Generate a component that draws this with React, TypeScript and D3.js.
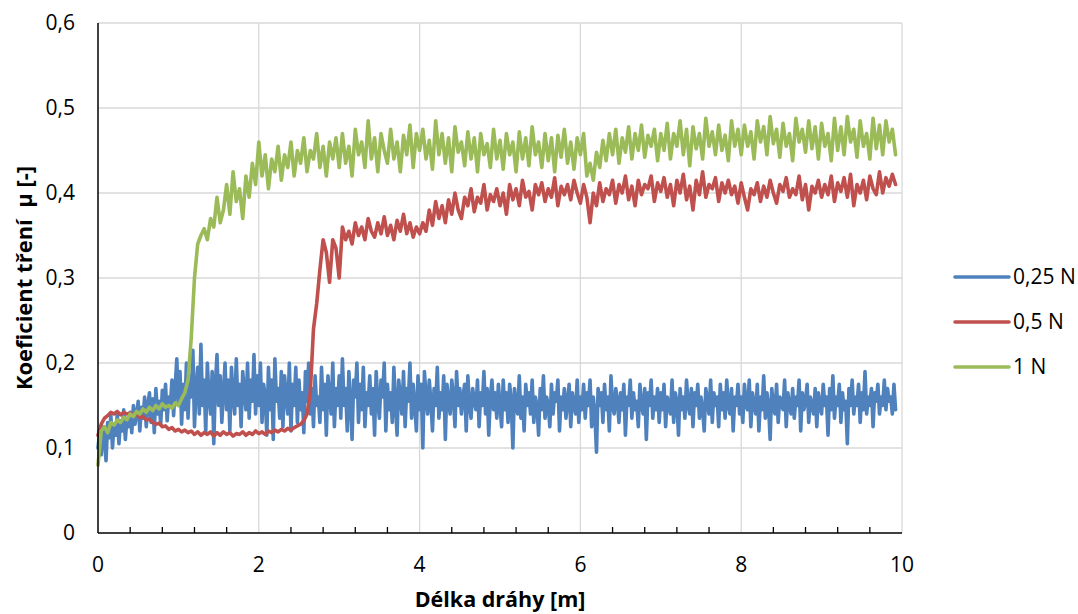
import React from 'react';
import * as d3 from 'd3';

// last measured distance [m]; points are evenly spaced from 0
const X_END = 9.92;

const X_TICKS = [0, 2, 4, 6, 8, 10];
const Y_TICKS = [0, 0.1, 0.2, 0.3, 0.4, 0.5, 0.6];
const SERIES_NAMES = ['0,25 N', '0,5 N', '1 N'];
const SERIES_COLORS = ['#4F81BD', '#C0504D', '#9BBB59'];

// 0,25 N  (every 0.02 m)
const blue025 = [
  0.100, 0.118, 0.092, 0.125, 0.108, 0.085, 0.130, 0.112, 0.138, 0.100, 0.128, 0.115, 0.140, 0.105, 0.132, 0.120, 0.145, 0.110, 0.135, 0.125,
  0.142, 0.118, 0.150, 0.128, 0.140, 0.155, 0.120, 0.148, 0.135, 0.160, 0.125, 0.150, 0.165, 0.130, 0.158, 0.118, 0.170, 0.140, 0.155, 0.128,
  0.168, 0.145, 0.175, 0.132, 0.160, 0.150, 0.180, 0.138, 0.172, 0.205,

  0.150, 0.190, 0.128, 0.175, 0.145, 0.200, 0.135, 0.185, 0.160, 0.215, 0.125, 0.170, 0.195, 0.140, 0.222, 0.150, 0.180, 0.118, 0.200, 0.160,
  0.140, 0.190, 0.105, 0.175, 0.210, 0.150, 0.185, 0.130, 0.165, 0.200, 0.145, 0.180, 0.120, 0.195, 0.160, 0.140, 0.205, 0.150, 0.175, 0.125,
  0.190, 0.165, 0.145, 0.200, 0.135, 0.180, 0.155, 0.210, 0.140, 0.185,

  0.150, 0.200, 0.130, 0.175, 0.160, 0.115, 0.195, 0.145, 0.180, 0.110, 0.205, 0.155, 0.170, 0.135, 0.190, 0.125, 0.185, 0.160, 0.140, 0.200,
  0.120, 0.175, 0.150, 0.195, 0.130, 0.180, 0.145, 0.165, 0.118, 0.190, 0.155, 0.200, 0.140, 0.170, 0.125, 0.185, 0.150, 0.160, 0.130, 0.195,
  0.145, 0.175, 0.115, 0.185, 0.160, 0.140, 0.200, 0.125, 0.170, 0.150,

  0.185, 0.135, 0.205, 0.150, 0.170, 0.120, 0.190, 0.155, 0.110, 0.180, 0.160, 0.200, 0.130, 0.175, 0.145, 0.195, 0.125, 0.165, 0.150, 0.185,
  0.140, 0.170, 0.115, 0.190, 0.155, 0.135, 0.180, 0.160, 0.200, 0.120, 0.175, 0.145, 0.165, 0.130, 0.195, 0.150, 0.115, 0.180, 0.160, 0.140,
  0.190, 0.125, 0.170, 0.155, 0.200, 0.135, 0.175, 0.150, 0.120, 0.185,

  0.145, 0.175, 0.100, 0.190, 0.160, 0.140, 0.180, 0.155, 0.120, 0.170, 0.150, 0.195, 0.135, 0.165, 0.145, 0.185, 0.110, 0.175, 0.155, 0.140,
  0.180, 0.160, 0.125, 0.190, 0.150, 0.170, 0.140, 0.160, 0.175, 0.120, 0.185, 0.150, 0.135, 0.170, 0.155, 0.145, 0.180, 0.125, 0.165, 0.150,
  0.190, 0.140, 0.170, 0.115, 0.160, 0.180, 0.145, 0.165, 0.135, 0.175,

  0.150, 0.125, 0.180, 0.145, 0.165, 0.130, 0.175, 0.155, 0.100, 0.170, 0.150, 0.140, 0.185, 0.135, 0.160, 0.120, 0.175, 0.150, 0.165, 0.140,
  0.180, 0.130, 0.160, 0.150, 0.115, 0.170, 0.145, 0.185, 0.135, 0.160, 0.150, 0.125, 0.175, 0.140, 0.165, 0.155, 0.180, 0.120, 0.160, 0.145,
  0.170, 0.135, 0.155, 0.175, 0.125, 0.165, 0.150, 0.140, 0.180, 0.130,

  0.160, 0.145, 0.175, 0.135, 0.165, 0.150, 0.180, 0.125, 0.160, 0.140, 0.095, 0.170, 0.150, 0.165, 0.130, 0.175, 0.145, 0.160, 0.120, 0.185,
  0.150, 0.140, 0.170, 0.155, 0.130, 0.165, 0.145, 0.175, 0.115, 0.160, 0.150, 0.180, 0.135, 0.165, 0.145, 0.155, 0.125, 0.175, 0.150, 0.140,
  0.170, 0.110, 0.165, 0.150, 0.180, 0.135, 0.160, 0.145, 0.170, 0.130,

  0.165, 0.145, 0.175, 0.125, 0.160, 0.150, 0.140, 0.180, 0.130, 0.165, 0.155, 0.115, 0.170, 0.145, 0.160, 0.135, 0.180, 0.150, 0.140, 0.170,
  0.125, 0.165, 0.150, 0.175, 0.135, 0.160, 0.145, 0.120, 0.170, 0.155, 0.140, 0.180, 0.130, 0.165, 0.150, 0.160, 0.125, 0.175, 0.145, 0.165,
  0.135, 0.180, 0.150, 0.140, 0.170, 0.120, 0.160, 0.150, 0.175, 0.140,

  0.160, 0.130, 0.175, 0.150, 0.145, 0.180, 0.125, 0.165, 0.150, 0.140, 0.175, 0.120, 0.160, 0.145, 0.185, 0.135, 0.165, 0.150, 0.110, 0.170,
  0.150, 0.140, 0.175, 0.130, 0.160, 0.155, 0.145, 0.180, 0.125, 0.165, 0.150, 0.140, 0.170, 0.135, 0.160, 0.150, 0.180, 0.120, 0.165, 0.145,
  0.155, 0.175, 0.130, 0.160, 0.150, 0.140, 0.170, 0.125, 0.165, 0.150,

  0.140, 0.175, 0.150, 0.160, 0.115, 0.170, 0.145, 0.185, 0.135, 0.160, 0.150, 0.175, 0.130, 0.165, 0.145, 0.155, 0.105, 0.170, 0.150, 0.180,
  0.140, 0.160, 0.150, 0.175, 0.130, 0.165, 0.145, 0.190, 0.140, 0.160, 0.150, 0.170, 0.125, 0.165, 0.155, 0.175, 0.140, 0.160, 0.150, 0.180,
  0.145, 0.170, 0.155, 0.160, 0.140, 0.175, 0.145,
];

// 0,5 N  (every 0.04 m)
const red05 = [
  0.115, 0.128, 0.135, 0.138, 0.142, 0.140, 0.143, 0.139, 0.142, 0.140, 0.141,
  0.138, 0.140, 0.136, 0.137, 0.133, 0.134, 0.130, 0.128, 0.129, 0.125, 0.126, 0.122, 0.124, 0.120, 0.122,
  0.119, 0.121, 0.118, 0.120, 0.116, 0.119, 0.115, 0.118, 0.116, 0.119, 0.114, 0.118, 0.115, 0.119, 0.116, 0.118, 0.114, 0.117, 0.116, 0.119, 0.115, 0.118, 0.116, 0.120, 0.117,
  0.119, 0.116, 0.120, 0.118, 0.121, 0.119, 0.122, 0.120, 0.123, 0.121, 0.124, 0.126, 0.128, 0.132, 0.140, 0.165, 0.240, 0.270, 0.310, 0.345, 0.330, 0.295, 0.345, 0.335, 0.300,
  0.360, 0.345, 0.355, 0.340, 0.365, 0.350, 0.360, 0.345, 0.370, 0.355, 0.348, 0.365, 0.352, 0.372, 0.350, 0.362, 0.345, 0.368, 0.355, 0.375, 0.352, 0.365, 0.348, 0.360, 0.352,
  0.365, 0.355, 0.380, 0.362, 0.390, 0.370, 0.385, 0.365, 0.392, 0.375, 0.400, 0.380, 0.370, 0.395, 0.385, 0.405, 0.378, 0.395, 0.388, 0.410, 0.380, 0.398, 0.390, 0.405, 0.385,
  0.400, 0.375, 0.410, 0.392, 0.405, 0.385, 0.415, 0.395, 0.402, 0.380, 0.410, 0.398, 0.412, 0.390, 0.405, 0.395, 0.418, 0.385, 0.408, 0.398, 0.410, 0.392, 0.415, 0.400, 0.388,
  0.410, 0.395, 0.365, 0.400, 0.385, 0.412, 0.390, 0.405, 0.398, 0.415, 0.388, 0.410, 0.400, 0.420, 0.392, 0.408, 0.385, 0.415, 0.398, 0.410, 0.405, 0.420, 0.390, 0.412, 0.402,
  0.418, 0.395, 0.410, 0.385, 0.415, 0.400, 0.422, 0.392, 0.408, 0.380, 0.415, 0.398, 0.425, 0.395, 0.410, 0.405, 0.418, 0.390, 0.412, 0.400, 0.415, 0.398, 0.408, 0.388, 0.412,
  0.395, 0.380, 0.405, 0.398, 0.412, 0.390, 0.408, 0.395, 0.415, 0.400, 0.388, 0.410, 0.402, 0.418, 0.395, 0.405, 0.398, 0.420, 0.392, 0.410, 0.380, 0.408, 0.400, 0.415, 0.395,
  0.410, 0.398, 0.420, 0.390, 0.412, 0.402, 0.418, 0.395, 0.422, 0.385, 0.410, 0.400, 0.415, 0.392, 0.420, 0.405, 0.398, 0.425, 0.400, 0.418, 0.408, 0.422, 0.410,
];

// 1 N  (every 0.04 m)
const green1 = [
  0.080, 0.120, 0.125, 0.118, 0.130, 0.127, 0.133, 0.130, 0.136, 0.133, 0.140,
  0.137, 0.143, 0.140, 0.146, 0.142, 0.148, 0.144, 0.150, 0.146, 0.152, 0.148, 0.150, 0.147, 0.153, 0.150,
  0.158, 0.165, 0.180, 0.230, 0.300, 0.340, 0.350, 0.358, 0.345, 0.370, 0.360, 0.395, 0.365, 0.380, 0.410, 0.375, 0.425, 0.390, 0.405, 0.370, 0.420, 0.395, 0.435, 0.410, 0.460,
  0.420, 0.445, 0.405, 0.440, 0.425, 0.455, 0.415, 0.445, 0.430, 0.460, 0.420, 0.450, 0.435, 0.465, 0.425, 0.450, 0.440, 0.470, 0.430, 0.455, 0.420, 0.460, 0.440, 0.465, 0.430,
  0.470, 0.435, 0.455, 0.420, 0.475, 0.445, 0.460, 0.430, 0.485, 0.440, 0.465, 0.425, 0.470, 0.450, 0.435, 0.475, 0.440, 0.460, 0.425, 0.468, 0.445, 0.480, 0.430, 0.470, 0.450,
  0.475, 0.440, 0.462, 0.428, 0.485, 0.445, 0.470, 0.435, 0.465, 0.425, 0.478, 0.448, 0.460, 0.432, 0.472, 0.440, 0.465, 0.425, 0.470, 0.445, 0.458, 0.430, 0.475, 0.440, 0.462,
  0.428, 0.470, 0.445, 0.460, 0.425, 0.472, 0.440, 0.465, 0.432, 0.478, 0.445, 0.460, 0.430, 0.470, 0.438, 0.465, 0.425, 0.468, 0.442, 0.475, 0.435, 0.460, 0.428, 0.465, 0.445,
  0.470, 0.420, 0.435, 0.415, 0.448, 0.430, 0.462, 0.438, 0.470, 0.445, 0.475, 0.435, 0.465, 0.448, 0.478, 0.440, 0.470, 0.450, 0.480, 0.442, 0.468, 0.455, 0.475, 0.438, 0.470,
  0.450, 0.482, 0.440, 0.470, 0.455, 0.485, 0.445, 0.475, 0.432, 0.478, 0.452, 0.470, 0.440, 0.488, 0.455, 0.472, 0.445, 0.480, 0.450, 0.468, 0.438, 0.485, 0.455, 0.475, 0.445,
  0.480, 0.455, 0.472, 0.440, 0.485, 0.460, 0.478, 0.445, 0.490, 0.458, 0.475, 0.442, 0.482, 0.455, 0.470, 0.438, 0.488, 0.460, 0.475, 0.448, 0.485, 0.452, 0.478, 0.440, 0.482,
  0.455, 0.470, 0.438, 0.488, 0.450, 0.478, 0.445, 0.490, 0.460, 0.475, 0.442, 0.485, 0.455, 0.470, 0.440, 0.488, 0.452, 0.480, 0.445, 0.485, 0.460, 0.475, 0.445,
];

const SERIES = [blue025, red05, green1];

const W = 1078;
const H = 614;
const FONT = "'Open Sans', 'Noto Sans', sans-serif";

const fmtY = (d: number) => (d === 0 ? '0' : d.toFixed(1).replace('.', ','));

export default function App() {
  const margin = { left: 98, right: 176, top: 23, bottom: 81 };
  const x = d3.scaleLinear().domain([0, 10]).range([margin.left, W - margin.right]);
  const y = d3.scaleLinear().domain([0, 0.6]).range([H - margin.bottom, margin.top]);

  const makeLine = (n: number) =>
    d3
      .line<number>()
      .x((d, i) => x((i * X_END) / (n - 1)))
      .y((d) => y(d));

  // minor ticks every 0.4 m, skipping the gridline positions
  const minorTicks = d3
    .range(1, 25)
    .map((k) => k * 0.4)
    .filter((v) => Math.abs(v / 2 - Math.round(v / 2)) > 1e-6);

  const legendY = [277, 322, 367];

  return (
    <div style={{ position: 'absolute', left: 0, top: 0 }}>
      <svg width={W} height={H} style={{ display: 'block', background: '#fff' }}>
        {/* grid */}
        {Y_TICKS.filter((t) => t > 0).map((t) => (
          <line key={'gy' + t} x1={x(0)} x2={x(10)} y1={y(t)} y2={y(t)} stroke="#D9D9D9" strokeWidth={1.3} />
        ))}
        {X_TICKS.filter((t) => t > 0).map((t) => (
          <line key={'gx' + t} x1={x(t)} x2={x(t)} y1={y(0)} y2={y(0.6)} stroke="#D9D9D9" strokeWidth={1.3} />
        ))}

        {/* series */}
        {SERIES.map((s, si) => (
          <path
            key={'s' + si}
            d={makeLine(s.length)(s) || ''}
            fill="none"
            stroke={SERIES_COLORS[si]}
            strokeWidth={3.6}
            strokeLinejoin="round"
            strokeLinecap="round"
          />
        ))}

        {/* axes */}
        <line x1={x(0)} x2={x(0)} y1={y(0)} y2={y(0.6)} stroke="#000" strokeWidth={1.5} />
        <line x1={x(0)} x2={x(10)} y1={y(0)} y2={y(0)} stroke="#000" strokeWidth={1.5} />
        {minorTicks.map((t) => (
          <line key={'mt' + t} x1={x(t)} x2={x(t)} y1={y(0)} y2={y(0) - 6} stroke="#000" strokeWidth={1.3} />
        ))}

        {/* tick labels */}
        {Y_TICKS.map((t) => (
          <text key={'ty' + t} x={x(0) - 23} y={y(t)} dy="0.35em" textAnchor="end" fontFamily={FONT} fontSize={21} fill="#000">
            {fmtY(t)}
          </text>
        ))}
        {X_TICKS.map((t) => (
          <text key={'tx' + t} x={x(t)} y={y(0) + 32} dy="0.35em" textAnchor="middle" fontFamily={FONT} fontSize={21} fill="#000">
            {String(t)}
          </text>
        ))}

        {/* axis titles */}
        <text x={(x(0) + x(10)) / 2} y={599} dy="0.35em" textAnchor="middle" fontFamily={FONT} fontSize={21.5} fontWeight="bold" fill="#000">
          Délka dráhy [m]
        </text>
        <text
          transform={`translate(24,${y(0.3)}) rotate(-90)`}
          dy="0.35em"
          textAnchor="middle"
          fontFamily={FONT}
          fontSize={22}
          fontWeight="bold"
          fill="#000"
          style={{ whiteSpace: 'pre' }}
        >
          {'Koeficient tření  μ [-]'}
        </text>

        {/* legend */}
        {SERIES_NAMES.map((name, i) => (
          <g key={'lg' + i}>
            <line x1={955} x2={1009} y1={legendY[i]} y2={legendY[i]} stroke={SERIES_COLORS[i]} strokeWidth={3.6} strokeLinecap="round" />
            <text x={1013} y={legendY[i]} dy="0.35em" fontFamily={FONT} fontSize={21} fill="#000">
              {name}
            </text>
          </g>
        ))}
      </svg>
    </div>
  );
}
